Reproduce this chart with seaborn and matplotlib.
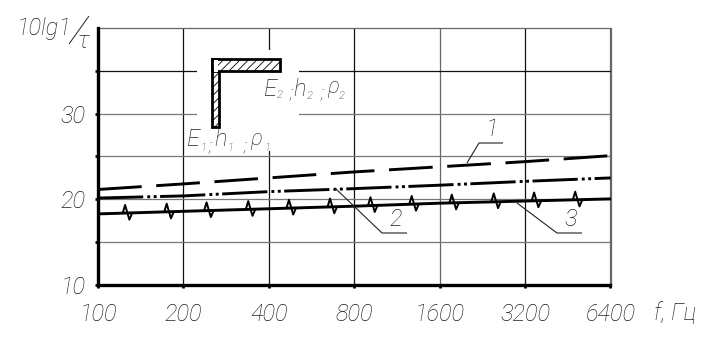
import numpy as np
import pandas as pd
import matplotlib
matplotlib.use("Agg")
import matplotlib.pyplot as plt
import seaborn as sns
from matplotlib.path import Path
from matplotlib.patches import Rectangle
from matplotlib.transforms import Affine2D

freq = [100, 200, 400, 800, 1600, 3200, 6400]
line1 = [21.15, 21.8, 22.5, 23.2, 23.8, 24.4, 25.1]
line2 = [20.15, 20.4, 20.9, 21.25, 21.65, 22.1, 22.5]
line3 = [18.3, 18.6, 18.9, 19.2, 19.55, 19.8, 20.05]
kink_f = [127, 178, 246, 345, 480, 670, 930, 1300, 1800, 2530, 3510, 4900]
kink_v = [18.4, 18.55, 18.7, 18.85, 19.0, 19.15, 19.3, 19.45, 19.6, 19.75, 19.85, 19.95]
y_ticks = [10, 20, 30]
y_grid = [15, 25, 35]
x_labels = ["100", "200", "400", "800", "1600", "3200", "6400"]

sns.set_theme(style="white")
FONT = "Roboto"
TXT = "#222222"
plt.rcParams["font.family"] = FONT

fig = plt.figure(figsize=(7.23, 3.61), dpi=100, facecolor="white")
W, H = 723, 361
ax = fig.add_axes([98 / W, 1 - 285 / H, 512.5 / W, 257 / H])
px = Affine2D().scale(1 / W, -1 / H).translate(0, 1) + fig.transFigure

df = pd.DataFrame({"f": freq, "l1": line1, "l2": line2, "l3": line3})
ax.set_xscale("log", base=2)
lw = 2.1
sns.lineplot(data=df, x="f", y="l1", ax=ax, color="black", lw=lw, dashes=False,
             linestyle=(0, (15, 5)), zorder=4)
sns.lineplot(data=df, x="f", y="l2", ax=ax, color="black", lw=lw, dashes=False,
             linestyle=(0, (15.5, 1.4, 1, 1.2, 1, 1.2)), zorder=4)
sns.lineplot(data=df, x="f", y="l3", ax=ax, color="black", lw=lw, zorder=4)

kink = Path([(-5, 0), (-2.5, 8.5), (2, -7), (5, 0)])
kdf = pd.DataFrame({"f": kink_f, "v": kink_v})
sns.scatterplot(data=kdf, x="f", y="v", ax=ax, marker=kink, s=135, color="black",
                edgecolor="black", linewidth=1.4, zorder=5)
ax.collections[-1].set_facecolor("none")

ax.set_xlim(100, 6400)
ax.set_ylim(10, 40)
ax.set_xticks(freq)
ax.set_xticklabels(x_labels)
ax.xaxis.set_minor_locator(matplotlib.ticker.NullLocator())
ax.set_yticks(y_ticks + y_grid, minor=False)
ax.set_yticklabels(["10", "20", "30", "", "", ""])
ax.set_xlabel("")
ax.set_ylabel("")
ax.grid(True, color="#222222", lw=0.9, zorder=1)
ax.set_axisbelow(True)
for gl, c in zip(ax.get_xgridlines(), ["k", "#111111", "#111111", "#111111", "#666666", "#111111", "#666666"]):
    gl.set_color(c)
for gl, c in zip(ax.get_ygridlines(), ["k", "#777777", "#777777", "#777777", "#777777", "#111111"]):
    gl.set_color(c)

ax.tick_params(axis="both", length=2, width=2, color="black", direction="out",
               bottom=True, left=True, labelcolor=TXT)
ax.tick_params(axis="x", pad=11, labelsize=17)
ax.tick_params(axis="y", pad=7, labelsize=17)
for t in ax.get_xticklabels() + ax.get_yticklabels():
    t.set_fontstyle("italic")
    t.set_fontweight("light")

for s in ["left", "bottom"]:
    ax.spines[s].set_linewidth(2.4)
    ax.spines[s].set_color("black")
    ax.spines[s].set_zorder(6)
for s in ["top", "right"]:
    ax.spines[s].set_linewidth(0.9)
    ax.spines[s].set_color("#666666")


def T(x, y, s, size=17, **kw):
    fig.text(x, y, s, transform=px, fontsize=size, style="italic", weight="light",
             color=TXT, ha="center", va="center", **kw)


def L(xs, ys, lw=0.8, color="#222222"):
    ax.plot(xs, ys, transform=px, color=color, lw=lw, zorder=7, clip_on=False,
            solid_capstyle="butt")


# white gap for the inset sketch
ax.add_patch(Rectangle((197, 50), 102, 101, transform=px, fc="white", ec="none", zorder=2))

# L-shaped section
plt.rcParams["hatch.linewidth"] = 0.6
ax.add_patch(Rectangle((212, 58.5), 6.5, 68, transform=px, fc="white", ec="black", lw=2,
                       hatch="////", zorder=3))
ax.add_patch(Rectangle((212, 58.5), 68, 12, transform=px, fc="white", ec="black", lw=2,
                       hatch="////", zorder=3))
ax.add_patch(Rectangle((213.5, 60), 4, 12, transform=px, fc="white", ec="none",
                       hatch="////", zorder=3.5))

# sketch labels
for x, y, s, z in [(193, 140, "E", 17), (203, 148, "1", 8), (210, 146, ";", 13),
                   (221, 140, "h", 17), (230, 148, "1", 8), (245, 146, ";", 13),
                   (256, 139, "ρ", 16), (267, 148, "1", 8),
                   (270, 89, "E", 17), (280, 95, "2", 8), (291, 93, ";", 13),
                   (300, 89, "h", 17), (310, 96, "2", 8), (322, 93, ";", 13),
                   (333, 88, "ρ", 16), (342, 96, "2", 8)]:
    T(x, y, s, z)

# leaders and curve numbers
L([467, 479, 503], [163, 143, 143])
L([335, 382, 407], [188, 233, 233])
L([517, 557, 582], [203, 233, 233])
T(492, 130, "1", 17)
T(396, 220, "2", 17)
T(571, 220, "3", 17)

# axis titles
T(44, 29, "10lg1", 17)
L([69, 89], [44, 16], lw=0.7, color=TXT)
T(83, 41, "τ", 17)
T(675, 313, "f, Гц", 17)

fig.savefig("out.png", dpi=100, facecolor="white")
